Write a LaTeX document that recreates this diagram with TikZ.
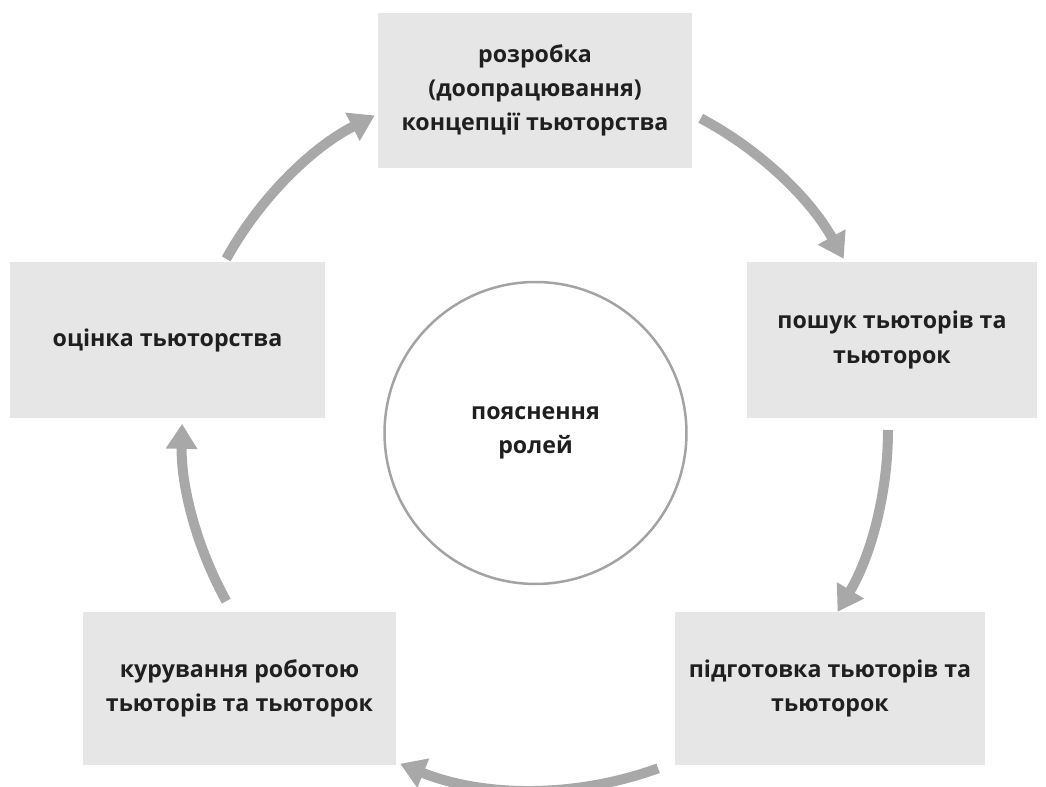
\documentclass[tikz,border=0pt]{standalone}
\usepackage{fontspec}
\setmainfont{Open Sans}
\usetikzlibrary{arrows.meta}
\definecolor{boxgray}{HTML}{E6E6E6}
\definecolor{arrgray}{HTML}{A8A8A8}
\definecolor{circgray}{HTML}{A3A3A3}
\begin{document}
\begin{tikzpicture}[x=0.02cm,y=0.02cm,
  stage/.style={fill=boxgray, draw=none, align=center, inner sep=0pt,
    font=\fontsize{13.2}{19.5}\selectfont\bfseries, text=black!88},
  cyc/.style={draw=arrgray, line width=0.2cm, -{Triangle[length=0.5cm,width=0.6cm]}}]
\useasboundingbox (0,0) rectangle (1046,787);
\node[stage, minimum width=6.28cm, minimum height=3.1cm] (top) at (535,696.5)
  {розробка\\(доопрацювання)\\концепції тьюторства};
\node[stage, minimum width=5.8cm, minimum height=3.12cm] (right) at (892,447)
  {пошук тьюторів та\\тьюторок};
\node[stage, minimum width=6.2cm, minimum height=3.06cm] (br) at (830,98.5)
  {підготовка тьюторів та\\тьюторок};
\node[stage, minimum width=6.26cm, minimum height=3.06cm] (bl) at (239.5,98.5)
  {курування роботою\\тьюторів та тьюторок};
\node[stage, minimum width=6.3cm, minimum height=3.12cm] (left) at (167.5,447)
  {оцінка тьюторства};
\node[draw=circgray, line width=0.05cm, circle, minimum size=6.04cm, align=center,
  font=\fontsize{13.2}{19.5}\selectfont\bfseries, text=black!88] (roles) at (535.5,354)
  {пояснення\\ролей};
\coordinate (c) at (535,357);
\coordinate (a1s) at ([shift={(151:353)}]c);
\coordinate (a2s) at ([shift={(62:353)}]c);
\coordinate (a3s) at ([shift={(0:353)}]c);
\coordinate (a4s) at ([shift={(-70:360)}]c);
\coordinate (a5s) at ([shift={(-151:353)}]c);
\draw[cyc] (a1s) arc[start angle=151, end angle=117, radius=353];
\draw[cyc] (a2s) arc[start angle=62, end angle=29, radius=353];
\draw[cyc] (a3s) arc[start angle=0, end angle=-31, radius=353];
\draw[cyc] (a4s) arc[start angle=-70, end angle=-112, radius=360];
\draw[cyc] (a5s) arc[start angle=-151, end angle=-181, radius=353];
\end{tikzpicture}
\end{document}
